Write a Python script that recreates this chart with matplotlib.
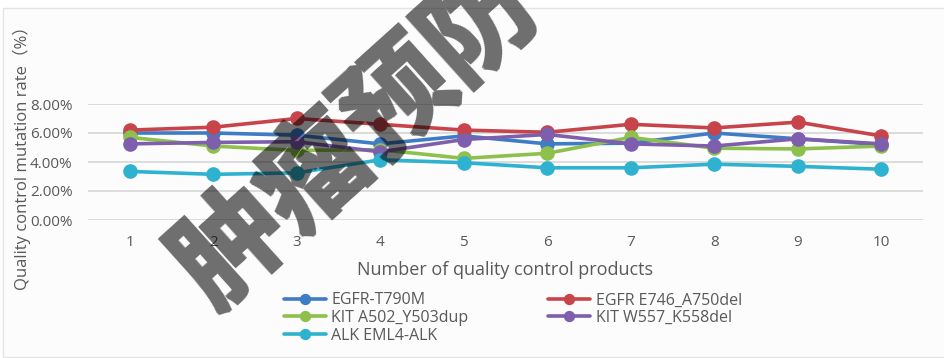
import numpy as np
import matplotlib.pyplot as plt
from matplotlib.patches import Rectangle

plt.rcParams['font.family'] = ['Open Sans', 'Noto Sans CJK SC', 'DejaVu Sans']

products = [1, 2, 3, 4, 5, 6, 7, 8, 9, 10]

egfr_t790m = [6.0, 6.0, 5.85, 5.25, 5.8, 5.25, 5.3, 6.0, 5.6, 5.2]
egfr_e746 = [6.2, 6.4, 7.0, 6.6, 6.2, 6.05, 6.6, 6.35, 6.75, 5.8]
kit_a502 = [5.7, 5.1, 4.8, 4.85, 4.25, 4.6, 5.7, 4.95, 4.9, 5.1]
kit_w557 = [5.25, 5.35, 5.4, 4.7, 5.55, 5.9, 5.25, 5.1, 5.6, 5.25]
alk_eml4 = [3.35, 3.15, 3.25, 4.15, 3.95, 3.6, 3.6, 3.85, 3.7, 3.5]

series = [
    ("EGFR-T790M", egfr_t790m, "#3e7dc5"),
    ("EGFR E746_A750del", egfr_e746, "#c8444b"),
    ("KIT A502_Y503dup", kit_a502, "#8dc04c"),
    ("KIT W557_K558del", kit_w557, "#7d5fae"),
    ("ALK EML4-ALK", alk_eml4, "#2fb2cf"),
]

W, H, DPI = 9.45, 3.58, 100

fig = plt.figure(figsize=(W, H), dpi=DPI, facecolor="white")
fig.patches.append(Rectangle((3 / 945, 0.003), 1, 1 - 8 / 358 - 0.003,
                             transform=fig.transFigure, facecolor="#fcfcfc",
                             edgecolor="#e4e4e4", linewidth=1, zorder=-10))

ax = fig.add_axes([88 / 945, 1 - 220 / 358, (923 - 88) / 945, (220 - 104) / 358])
ax.set_facecolor("none")

lines = {}
for name, vals, col in series:
    pct = [v / 100 for v in vals]
    ln, = ax.plot(products, pct, color=col, lw=2.6, marker="o", ms=9.5,
                  label=name, solid_capstyle="round")
    lines[name] = ln

ax.set_xlim(0.5, 10.5)
ax.set_ylim(0, 0.08)
ax.set_xticks(products)
ax.set_yticks([0, 0.02, 0.04, 0.06, 0.08])
ax.set_yticklabels(["0.00%", "2.00%", "4.00%", "6.00%", "8.00%"])
ax.grid(axis="y", color="#d9d9d9", lw=1.3)
ax.set_axisbelow(True)
for s in ax.spines.values():
    s.set_visible(False)
ax.tick_params(length=0, labelsize=11, colors="#595959")
ax.tick_params(axis="x", pad=11)
ax.tick_params(axis="y", pad=11)

ax.set_xlabel("Number of quality control products", fontsize=13, color="#595959", labelpad=8)
ax.set_ylabel("Quality control mutation rate（%）", fontsize=12, color="#595959")
ax.yaxis.set_label_coords(-0.068, 0.57)

# legend fills column-wise, so order handles to read row by row
order = ["EGFR-T790M", "KIT A502_Y503dup", "ALK EML4-ALK",
         "EGFR E746_A750del", "KIT W557_K558del"]
leg = fig.legend([lines[n] for n in order], order, ncol=2,
                 loc="upper left", bbox_to_anchor=(270 / 945, 1 - 278 / 358),
                 frameon=False, fontsize=11.5, handlelength=2.6,
                 handletextpad=0.35, columnspacing=5.0, labelspacing=0.1,
                 markerscale=0.75)
for t in leg.get_texts():
    t.set_color("#595959")

# watermark: render the text alone, thicken the strokes a little, then lay it
# over the chart as a translucent image
wm = plt.figure(figsize=(W, H), dpi=DPI)
wm.patch.set_alpha(0)
wm.text(357 / 945, 1 - 136 / 358, "肿瘤预防", rotation=42, rotation_mode="anchor",
        ha="center", va="center", fontsize=80, fontweight="heavy",
        family=["Noto Sans CJK SC"], color="black")
wm.canvas.draw()
a = np.asarray(wm.canvas.buffer_rgba())[..., 3] / 255.0
plt.close(wm)

r = 2
h, w = a.shape
padded = np.pad(a, r)
mask = a.copy()
for dy in range(-r, r + 1):
    for dx in range(-r, r + 1):
        if dx * dx + dy * dy <= r * r:
            mask = np.maximum(mask, padded[r + dy:r + dy + h, r + dx:r + dx + w])

rgba = np.zeros(a.shape + (4,))
rgba[..., 3] = mask * 0.56
fig.figimage(rgba, 0, 0, zorder=20)

fig.savefig("out.png", dpi=DPI, facecolor=fig.get_facecolor())
